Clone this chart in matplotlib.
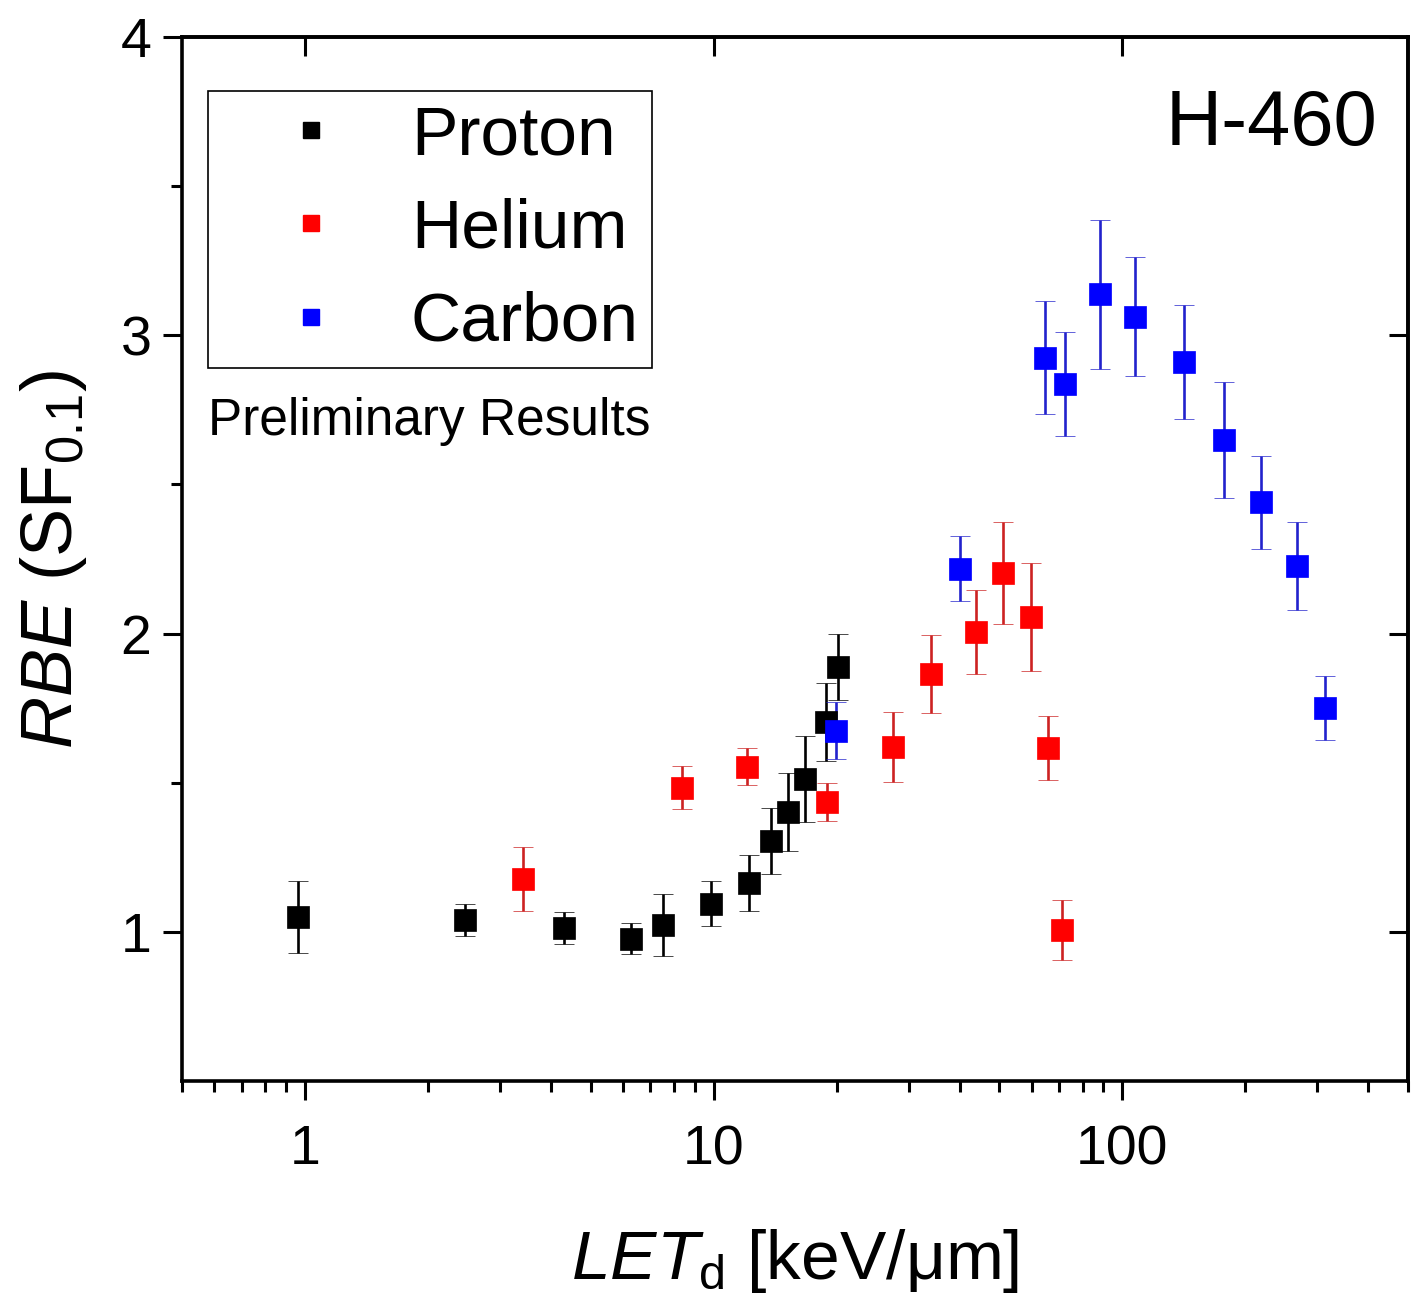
import numpy as np
import matplotlib
matplotlib.use("Agg")
import matplotlib.pyplot as plt
from matplotlib.lines import Line2D
from matplotlib.ticker import NullLocator, FixedLocator, NullFormatter

plt.rcParams['font.family'] = ['Liberation Sans', 'DejaVu Sans']
plt.rcParams['mathtext.fontset'] = 'custom'
plt.rcParams['mathtext.rm'] = 'Liberation Sans'
plt.rcParams['mathtext.it'] = 'Liberation Sans:italic'

# data: LET_d [keV/um], RBE, symmetric error
proton_let = [0.96, 2.46, 4.31, 6.28, 7.51, 9.83, 12.2, 13.85, 15.24, 16.77, 18.86, 20.18]
proton_rbe = [1.05, 1.04, 1.013, 0.977, 1.023, 1.094, 1.164, 1.305, 1.402, 1.513, 1.704, 1.888]
proton_err = [0.12, 0.055, 0.055, 0.052, 0.105, 0.075, 0.095, 0.11, 0.13, 0.145, 0.13, 0.112]

helium_let = [3.42, 8.36, 12.1, 18.9, 27.5, 34.0, 43.8, 51.0, 59.7, 66.0, 71.4]
helium_rbe = [1.178, 1.483, 1.553, 1.436, 1.62, 1.865, 2.006, 2.203, 2.056, 1.617, 1.007]
helium_err = [0.108, 0.072, 0.062, 0.064, 0.117, 0.13, 0.14, 0.17, 0.18, 0.107, 0.1]

carbon_let = [19.95, 40.0, 64.9, 72.6, 88.4, 107.6, 141.6, 177.4, 218.3, 267.3, 314.5]
carbon_rbe = [1.674, 2.217, 2.925, 2.837, 3.137, 3.063, 2.911, 2.649, 2.44, 2.227, 1.751]
carbon_err = [0.095, 0.109, 0.19, 0.175, 0.25, 0.2, 0.19, 0.195, 0.157, 0.148, 0.107]

series = [
    ("Proton", proton_let, proton_rbe, proton_err, "#000000", "#000000"),
    ("Helium", helium_let, helium_rbe, helium_err, "#ff0000", "#cc2222"),
    ("Carbon", carbon_let, carbon_rbe, carbon_err, "#0000ff", "#2222cc"),
]

fig = plt.figure(figsize=(14.12, 13.13), dpi=100)
ax = fig.add_axes([0.1289, 0.1767, 0.997 - 0.1289, 0.9718 - 0.1767])

for name, x, y, e, c, ec in series:
    ax.errorbar(x, y, yerr=e, fmt='s', ms=15.5, mfc=c, mec=c, mew=0.5,
                ecolor=ec, elinewidth=1.9, capsize=7.2, capthick=1.9)

ax.set_xscale('log')
ax.set_xlim(0.5, 500)
ax.set_ylim(0.5, 4)

for sp in ax.spines.values():
    sp.set_linewidth(2.6)

ax.set_xticks([1, 10, 100])
ax.set_xticklabels(['1', '10', '100'])
ax.xaxis.set_minor_locator(FixedLocator(
    [m * d for d in (0.1, 1, 10, 100) for m in range(2, 10) if 0.5 <= m * d <= 500]))
ax.xaxis.set_minor_formatter(NullFormatter())
ax.set_yticks([1, 2, 3, 4])
ax.yaxis.set_minor_locator(FixedLocator([1.5, 2.5, 3.5]))

ax.tick_params(which='major', direction='out', length=14, width=2.2, labelsize=40, pad=8)
ax.tick_params(which='minor', direction='out', length=8, width=2.2)
ax.tick_params(axis='x', which='major', pad=17)
ax.tick_params(top=False, right=False, which='both')

top = ax.secondary_xaxis('top')
top.set_xticks([1, 10, 100])
top.xaxis.set_minor_locator(NullLocator())
top.tick_params(direction='in', length=14, width=2.2, labeltop=False)
top.spines['top'].set_linewidth(2.6)

right = ax.secondary_yaxis('right')
right.set_yticks([1, 2, 3, 4])
right.yaxis.set_minor_locator(NullLocator())
right.tick_params(direction='in', length=14, width=2.2, labelright=False)
right.spines['right'].set_linewidth(2.6)

ax.set_xlabel(r'$\it{LET}_{\rm d}$ [keV/μm]', fontsize=50, labelpad=37)
ax.set_ylabel(r'$\it{RBE}$ (SF$_{0.1}$)', fontsize=52, labelpad=23)

handles = [Line2D([], [], ls='none', marker='s', ms=11.5, mfc=c, mec=c)
           for _, _, _, _, c, _ in series]
labels = [s[0] for s in series]
leg = ax.legend(handles, labels, loc='upper left', bbox_to_anchor=(0.0212, 0.948),
                borderaxespad=0, fontsize=50, frameon=True, fancybox=False,
                edgecolor='black', framealpha=1, handlelength=2.6,
                handletextpad=0.13, borderpad=0.19, labelspacing=0.42)
leg.get_frame().set_linewidth(1.2)

ax.text(0.0212, 0.632, 'Preliminary Results', transform=ax.transAxes,
        fontsize=37, ha='left', va='center')
ax.text(0.9756, 0.916, 'H-460', transform=ax.transAxes,
        fontsize=56, ha='right', va='center')

fig.savefig('out.png', dpi=100)
